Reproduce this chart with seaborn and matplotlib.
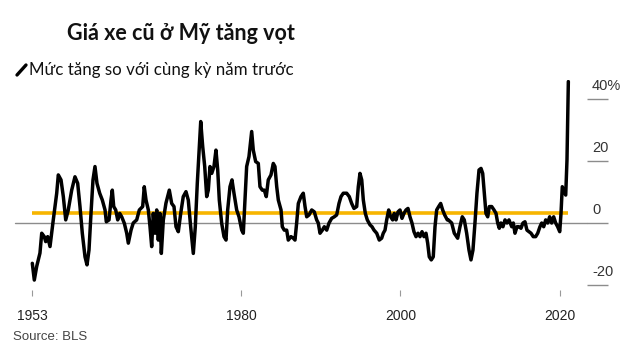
import matplotlib
matplotlib.use("Agg")
import matplotlib.pyplot as plt
import matplotlib.transforms as mtransforms
import seaborn as sns
import pandas as pd

# ---- data ----
years = [
    1953.83, 1954.08, 1954.38, 1954.79, 1955.01, 1955.33, 1955.51, 1955.76, 1956.05, 1956.46,
    1956.89, 1957.09, 1957.43, 1957.72, 1958.02, 1958.34, 1958.77, 1959.18, 1959.52, 1959.81,
    1960.10, 1960.44, 1960.69, 1960.94, 1961.19, 1961.44, 1961.69, 1961.94, 1962.28, 1962.61,
    1962.95, 1963.11, 1963.45, 1963.70, 1963.86, 1964.04, 1964.29, 1964.54, 1964.79, 1965.04,
    1965.37, 1965.67, 1965.87, 1966.21, 1966.49, 1966.92, 1967.25, 1967.67, 1967.87, 1968.09,
    1968.38, 1968.59, 1968.80, 1969.00, 1969.22, 1969.43, 1969.63, 1969.84, 1970.01, 1970.26,
    1970.59, 1971.01, 1971.31, 1971.60, 1971.85, 1972.14, 1972.44, 1972.76, 1973.10, 1973.39,
    1973.69, 1974.02, 1974.27, 1974.52, 1974.77, 1974.95, 1975.20, 1975.45, 1975.70, 1975.90,
    1976.11, 1976.33, 1976.61, 1976.86, 1977.08, 1977.28, 1977.58, 1977.87, 1978.12, 1978.33,
    1978.62, 1978.87, 1979.12, 1979.46, 1979.75, 1980.09, 1980.29, 1980.50, 1980.71, 1981.00,
    1981.34, 1981.54, 1981.84, 1982.17, 1982.38, 1982.67, 1982.92, 1983.17, 1983.42, 1983.76,
    1984.05, 1984.26, 1984.48, 1984.68, 1985.02, 1985.18, 1985.43, 1985.73, 1985.93, 1986.27,
    1986.56, 1986.77, 1986.98, 1987.19, 1987.52, 1987.81, 1988.03, 1988.24, 1988.53, 1988.87,
    1989.19, 1989.49, 1989.69, 1989.91, 1990.20, 1990.45, 1990.75, 1991.04, 1991.37, 1991.70,
    1992.00, 1992.29, 1992.54, 1992.83, 1993.25, 1993.58, 1993.88, 1994.17, 1994.51, 1994.71,
    1994.92, 1995.14, 1995.34, 1995.59, 1995.84, 1996.18, 1996.43, 1996.68, 1997.02, 1997.34,
    1997.64, 1997.84, 1998.06, 1998.27, 1998.52, 1998.77, 1999.02, 1999.22, 1999.44, 1999.69,
    1999.94, 2000.19, 2000.44, 2000.69, 2000.94, 2001.19, 2001.44, 2001.69, 2001.95, 2002.20,
    2002.45, 2002.70, 2002.95, 2003.20, 2003.41, 2003.61, 2003.86, 2004.11, 2004.33, 2004.54,
    2004.79, 2005.04, 2005.29, 2005.54, 2005.87, 2006.00, 2006.42, 2006.75, 2007.17, 2007.46,
    2007.75, 2008.00, 2008.30, 2008.59, 2008.84, 2009.09, 2009.34, 2009.59, 2009.85, 2010.10,
    2010.31, 2010.51, 2010.72, 2010.94, 2011.14, 2011.44, 2011.73, 2011.98, 2012.19, 2012.39,
    2012.60, 2012.85, 2013.11, 2013.36, 2013.61, 2013.95, 2014.15, 2014.36, 2014.61, 2014.86,
    2015.11, 2015.36, 2015.61, 2015.86, 2016.12, 2016.37, 2016.65, 2016.95, 2017.21, 2017.49,
    2017.71, 2017.96, 2018.21, 2018.46, 2018.71, 2018.96, 2019.21, 2019.46, 2019.71, 2019.97,
    2020.13, 2020.29, 2020.46, 2020.72, 2020.88, 2021.05,
]
yoy_change = [
    -13.0, -18.4, -14.0, -9.7, -3.3, -4.4, -6.0, -4.4, -7.6, 1.0,
    9.6, 15.5, 13.9, 8.5, 1.0, 4.2, 10.6, 14.9, 12.8, 5.3,
    -3.3, -10.9, -13.5, -8.7, 3.1, 13.9, 18.2, 12.8, 9.6, 7.4,
    4.2, 0.4, 1.0, 7.4, 10.6, 5.3, 4.2, 1.0, 3.1, 2.0,
    -0.1, -3.3, -6.5, -2.3, 0.0, 1.0, 4.2, 5.3, 11.7, 7.4,
    4.2, -1.2, -7.6, 3.1, -3.3, 4.2, -5.5, 3.1, -9.8, 1.0,
    6.4, 10.6, 6.3, 5.3, -1.2, -2.8, 3.1, 8.5, 10.1, 7.4,
    -1.2, -9.8, -1.2, 12.8, 24.6, 32.7, 24.6, 18.2, 8.5, 10.6,
    18.2, 16.0, 18.2, 23.5, 17.1, 7.4, -0.1, -4.4, -5.5, 4.2,
    11.7, 13.9, 9.6, 4.2, 2.0, -2.3, -3.3, 7.4, 18.2, 21.4,
    29.5, 23.5, 19.8, 19.2, 11.7, 10.6, 10.6, 8.5, 13.9, 15.5,
    19.2, 18.2, 11.7, 7.4, 4.2, -1.2, -2.3, -2.3, -5.5, -4.4,
    -4.9, -5.5, 0.0, 6.3, 8.5, 9.6, 5.3, 2.0, 2.6, 4.2,
    3.6, 1.0, 0.0, -3.3, -2.3, -1.2, -2.3, 0.0, 1.5, 2.0,
    2.6, 6.3, 8.5, 9.6, 9.6, 8.5, 6.3, 4.7, 5.3, 11.7,
    16.0, 13.9, 7.4, 3.1, 1.0, -0.6, -1.2, -2.3, -3.3, -5.5,
    -4.9, -3.3, -2.3, 1.0, 4.2, 2.0, 1.0, 3.1, 1.0, 3.6,
    4.2, 1.5, 3.1, 4.2, 4.7, 2.0, 0.0, -2.8, -4.4, -3.3,
    -4.4, -2.8, -4.4, -3.3, -6.5, -10.9, -11.9, -10.9, -1.2, 4.2,
    5.3, 6.3, 4.2, 2.6, 1.0, 1.0, 0.0, -3.3, -4.9, -1.2,
    2.0, 1.0, -3.3, -8.7, -11.9, -8.7, 0.0, 9.6, 17.1, 17.6,
    16.0, 9.6, 3.1, 2.0, 5.3, 5.3, 4.2, 3.1, 0.0, -1.7,
    0.0, -1.2, 1.0, 0.0, 1.0, -1.2, 0.0, -3.3, -1.2, -1.2,
    -1.7, 0.0, 0.4, -2.3, -2.8, -3.3, -4.4, -4.4, -3.3, -1.2,
    0.0, -1.2, 1.0, 0.0, 2.0, 0.0, 2.0, 0.0, -1.2, -2.8,
    3.1, 11.7, 10.6, 9.0, 20.3, 45.6,
]
average_change = 3.2
ytick_values = [-20, 0, 20, 40]
ytick_labels = ["-20", "0", "20", "40%"]
xtick_years = [1953.83, 1980, 2000, 2020]
xtick_labels = ["1953", "1980", "2000", "2020"]

title = "Giá xe cũ ở Mỹ tăng vọt"
legend_text = "Mức tăng so với cùng kỳ năm trước"
source_text = "Source: BLS"

df = pd.DataFrame({"year": years, "change": yoy_change})

# ---- figure ----
sns.set_theme(style="white")
plt.rcParams["font.family"] = ["Liberation Sans", "DejaVu Sans"]

fig = plt.figure(figsize=(6.30, 3.61), dpi=100)
ax = fig.add_axes([15 / 630, 1 - 290 / 361, (587 - 15) / 630, (290 - 80) / 361])

ax.axhline(0, color="#8c8c8c", lw=1.0, zorder=1, clip_on=False)
ax.hlines(average_change, years[0], years[-1], color="#F7B500", lw=2.6, zorder=2)
sns.lineplot(data=df, x="year", y="change", ax=ax, color="black", lw=2.5,
             zorder=3, legend=False)

ax.set_xlim(1951.66, 2023.39)
ax.set_ylim(-21.6, 46.1)
for s in ax.spines.values():
    s.set_visible(False)
ax.set_xlabel("")
ax.set_ylabel("")

ax.set_xticks(xtick_years)
ax.set_xticklabels(xtick_labels, fontsize=10, color="#222222")
ax.tick_params(axis="x", direction="out", length=4, width=0.8, color="#999999",
               pad=10, bottom=True)

ax.yaxis.tick_right()
ax.set_yticks(ytick_values)
ax.set_yticklabels([])
ax.tick_params(axis="y", direction="out", length=15, width=1.0, color="#8c8c8c",
               right=True, left=False, pad=0)

trans = mtransforms.blended_transform_factory(ax.transAxes, ax.transData)
for v, lab in zip(ytick_values, ytick_labels):
    xpos = 1.0 + 5 / 572
    ax.text(xpos, v + 2.0, lab, transform=trans, ha="left", va="bottom",
            fontsize=10.5, color="#333333")

fig.text(67 / 630, 1 - 33 / 361, title, fontsize=15.5, fontweight="bold",
         family=["Lato", "DejaVu Sans"], ha="left", va="center", color="#111111")
fig.text(29 / 630, 1 - 70 / 361, legend_text, fontsize=12.2,
         family=["Lato", "DejaVu Sans"], ha="left", va="center", color="#111111")
fig.add_artist(plt.Line2D([17 / 630, 26 / 630], [1 - 75 / 361, 1 - 65 / 361],
                          color="black", lw=2.4, solid_capstyle="round"))
fig.text(13 / 630, 1 - 337 / 361, source_text, fontsize=9.5, color="#444444",
         ha="left", va="center")

fig.savefig("out.png", dpi=100)
